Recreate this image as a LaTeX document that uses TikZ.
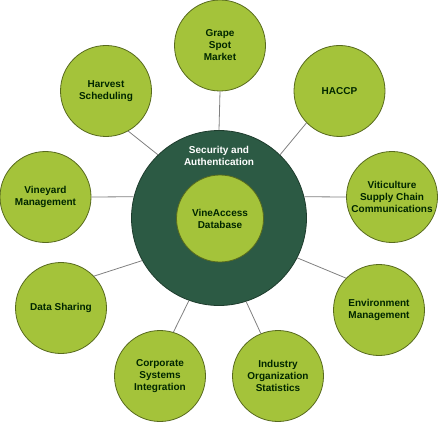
\documentclass[tikz,border=0pt]{standalone}
\usepackage{fontspec}
\setmainfont{Liberation Sans}
\usepackage{tikz}

\definecolor{leafgreen}{RGB}{164,195,58}
\definecolor{leafrim}{RGB}{88,106,30}
\definecolor{vinedark}{RGB}{44,90,68}
\definecolor{vinerim}{RGB}{30,60,45}
\definecolor{wire}{RGB}{128,128,128}

\begin{document}
\begin{tikzpicture}[x=1pt,y=-1pt,
  topic/.style={circle,draw=leafrim,line width=0.8pt,fill=leafgreen,minimum size=91pt,inner sep=0pt,
    align=center,font=\fontsize{10}{12}\selectfont\bfseries,text=black!85!green},
  link/.style={draw=wire,line width=0.8pt}]
\useasboundingbox (0,0) rectangle (438,422);
\node[circle,draw=vinerim,line width=0.8pt,fill=vinedark,minimum size=175pt] (sec) at (219,218) {};
\node[font=\fontsize{10}{12}\selectfont\bfseries,text=white,align=center] (seclbl) at (219,156) {Security and\\Authentication};
\node[topic,minimum size=87pt] (db) at (220,218.5) {VineAccess\\Database};
\node[topic] (gsm) at (220,45.5) {Grape\\Spot\\Market};
\node[topic] (haccp) at (339.5,91) {HACCP};
\node[topic] (vsc) at (392,197) {Viticulture\\Supply Chain\\Communications};
\node[topic] (em) at (379,310) {Environment\\Management};
\node[topic] (ios) at (278,376) {Industry\\Organization\\Statistics};
\node[topic] (csi) at (160,376) {Corporate\\Systems\\Integration};
\node[topic] (ds) at (61,308) {Data Sharing};
\node[topic] (vm) at (45.5,197) {Vineyard\\Management};
\node[topic] (hs) at (106,91) {Harvest\\Scheduling};
\draw[link] (sec.north) -- (gsm.south);
\draw[link] (sec.46) -- (haccp.224);
\draw[link] (sec.14) -- (vsc.west);
\draw[link] (sec.333) -- (em.136);
\draw[link] (sec.288) -- (ios.112);
\draw[link] (sec.250) -- (csi.73);
\draw[link] (sec.209) -- (ds.44);
\draw[link] (sec.166) -- (vm.east);
\draw[link] (sec.134) -- (hs.299);
\end{tikzpicture}
\end{document}
